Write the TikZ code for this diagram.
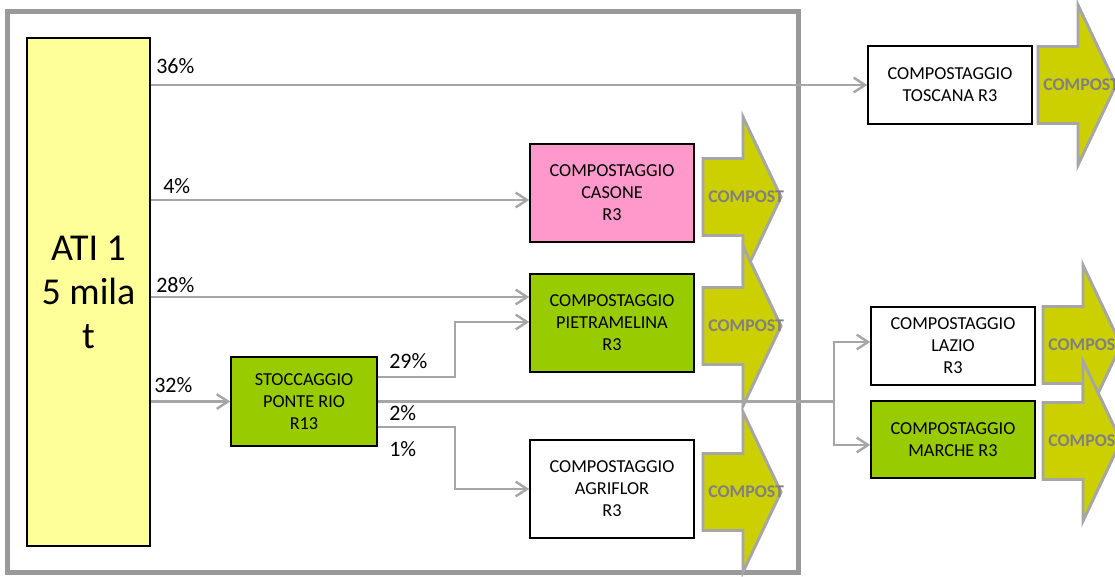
\documentclass[tikz,border=0pt]{standalone}
\usepackage{fontspec}
\setmainfont{Carlito}
\usetikzlibrary{arrows.meta,shadows,calc}
\definecolor{atiyellow}{HTML}{FFFF99}
\definecolor{boxpink}{HTML}{FF99CC}
\definecolor{boxgreen}{HTML}{99CC00}
\definecolor{arrowfill}{RGB}{204,208,0}
\definecolor{arrowline}{HTML}{A6A6A6}
\definecolor{framegray}{HTML}{999999}
\definecolor{conngray}{HTML}{A6A6A6}
\definecolor{comptext}{HTML}{808080}
\tikzset{
  box/.style={draw=black, line width=1.1pt, align=center, inner sep=0pt,
    font=\fontsize{13.7}{16.5}\selectfont,
    drop shadow={shadow xshift=0.9pt, shadow yshift=-0.9pt, opacity=0.6, fill=black!70}},
  conn/.style={draw=conngray, line width=1.8pt},
  connarr/.style={conn, -{Straight Barb[length=8.5pt, width=11pt]}},
  pct/.style={anchor=west, inner sep=0pt, font=\fontsize{16.5}{19}\selectfont},
  carrow/.style={fill=arrowfill, draw=arrowline, line width=2.2pt, line join=miter},
  ctext/.style={anchor=west, inner sep=0pt, text=comptext, font=\bfseries\fontsize{13.4}{15}\selectfont},
}
\newcommand\compostarrow[3]{%
  \filldraw[carrow] (#1,#2-38.5) -- (#1+40,#2-38.5) -- (#1+40,#2-80) -- (#1+78,#2)
    -- (#1+40,#2+80) -- (#1+40,#2+38.5) -- (#1,#2+38.5) -- cycle;
  \node[ctext] (#3) at (#1+5,#2) {COMPOST};
}
\begin{document}
\begin{tikzpicture}[x=0.75pt, y=-0.75pt]
\useasboundingbox (0,0) rectangle (1115,577);
\clip (0,0) rectangle (1115,577);
\fill[white] (0,0) rectangle (1115,577);

% frame
\draw[draw=framegray, line width=3.75pt] (7,12) rectangle (798,572);

% boxes
\node[box, fill=atiyellow, minimum width=92.25pt, minimum height=381pt,
  font=\fontsize{28.5}{33}\selectfont] (ati) at (88.5,292) {ATI 1\\5 mila\\t};
\node[box, fill=white, minimum width=123pt, minimum height=58.5pt] (tosc) at (950,85) {COMPOSTAGGIO\\TOSCANA R3};
\node[box, fill=boxpink, minimum width=123pt, minimum height=73.5pt] (cas) at (612,193) {COMPOSTAGGIO\\CASONE\\R3};
\node[box, fill=boxgreen, minimum width=123pt, minimum height=73.5pt] (piet) at (612,323) {COMPOSTAGGIO\\PIETRAMELINA\\R3};
\node[box, fill=white, minimum width=123pt, minimum height=73.5pt] (agri) at (612,489) {COMPOSTAGGIO\\AGRIFLOR\\R3};
\node[box, fill=boxgreen, minimum width=109.5pt, minimum height=66.75pt] (stoc) at (304,401.5) {STOCCAGGIO\\PONTE RIO\\R13};
\node[box, fill=white, minimum width=123pt, minimum height=58.5pt] (lazio) at (953,346) {COMPOSTAGGIO\\LAZIO\\R3};
\node[box, fill=boxgreen, minimum width=123pt, minimum height=57.75pt] (marche) at (953,439.5) {COMPOSTAGGIO\\MARCHE R3};

% compost arrows
\compostarrow{703}{197}{cc1}
\compostarrow{703}{326}{cc2}
\compostarrow{703}{492}{cc3}
\compostarrow{1038}{85}{cc4}
\compostarrow{1043}{345}{cc5}
\compostarrow{1043}{441}{cc6}

% connectors from ATI
\coordinate (casin) at ($(cas.west)+(0,7)$);
\coordinate (pietin) at ($(piet.west)+(0,-26)$);
\draw[connarr] (ati.east |- tosc.west) -- (tosc.west);
\draw[connarr] (ati.east |- casin) -- (casin);
\draw[connarr] (ati.east |- pietin) -- (pietin);
\draw[connarr] (ati.east |- stoc.west) -- (stoc.west);

% connectors from stoccaggio
\coordinate (s29) at ($(stoc.east)+(0,-24.5)$);
\coordinate (p29) at ($(piet.west)+(0,-1)$);
\coordinate (s2) at ($(stoc.east)+(0,25.5)$);
\coordinate (lazin) at ($(lazio.west)+(0,-4)$);
\coordinate (marin) at ($(marche.west)+(0,5.5)$);
\draw[connarr] (s29) -- ++(77,0) |- (p29);
\draw[connarr] (s2) -- ++(77,0) |- (agri.west);
\draw[conn] (stoc.east) -- ++(456,0) coordinate (split);
\draw[connarr] (split) |- (lazin);
\draw[connarr] (split) |- (marin);

% percentage labels
\node[pct] (l36) at (156,66) {36\%};
\node[pct] (l4) at (163,186) {4\%};
\node[pct] (l28) at (156,285) {28\%};
\node[pct] (l32) at (154,385) {32\%};
\node[pct] (l29) at (389,361) {29\%};
\node[pct] (l2) at (389,413) {2\%};
\node[pct] (l1) at (389,449) {1\%};
\end{tikzpicture}
\end{document}
